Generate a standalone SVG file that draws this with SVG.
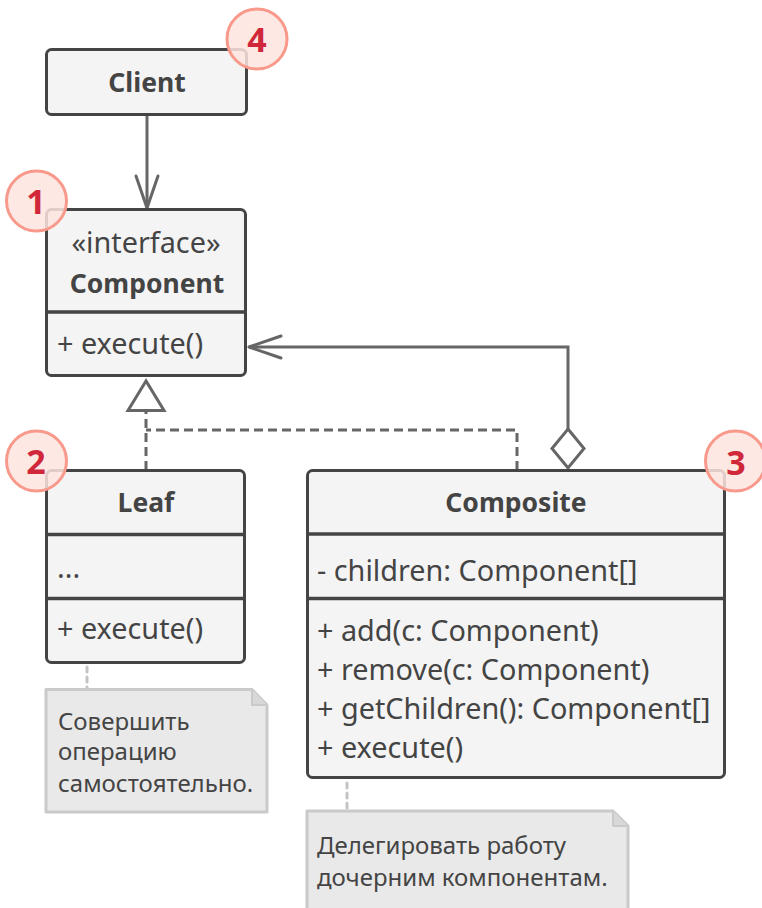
<svg xmlns="http://www.w3.org/2000/svg" width="762" height="908" viewBox="0 0 762 908">
<defs>
<style>
.box{fill:#f4f4f4;stroke:#444;stroke-width:3}
.div{stroke:#444;stroke-width:3.5}
.t{font-family:"Noto Sans","Open Sans",sans-serif;font-size:28.8px;fill:#444}
.b{font-family:"Noto Sans","Open Sans",sans-serif;font-size:26.5px;font-weight:700;fill:#444}
.n{font-family:"Noto Sans","Open Sans",sans-serif;font-size:24px;fill:#444}
.note{fill:#e9e9e9;stroke:#cacaca;stroke-width:3;stroke-linejoin:round}
.nl{stroke:#c4c4c4;stroke-width:3;stroke-dasharray:5 5;stroke-linecap:round;fill:none}
.ln{stroke:#666;stroke-width:3;fill:none}
.dash{stroke:#666;stroke-width:3;fill:none;stroke-dasharray:9 5}
.badge circle{fill:#fde4df;fill-opacity:0.85;stroke:#f8998b;stroke-width:3}
.badge text{font-family:"Noto Sans","Open Sans",sans-serif;font-size:34px;font-weight:700;fill:#d0283a;text-anchor:middle}
</style>
<marker id="open" viewBox="0 0 40 30" refX="36" refY="15" markerWidth="40" markerHeight="30" markerUnits="userSpaceOnUse" orient="auto">
<path d="M4,4 L36,15 L4,26" fill="none" stroke="#666" stroke-width="3" stroke-linecap="round" stroke-linejoin="round"/>
</marker>
</defs>

<g id="connectors">
<line class="ln" x1="147" y1="114" x2="147" y2="208" marker-end="url(#open)"/>
<path class="ln" d="M568,429 V347 H249" marker-end="url(#open)"/>
<polygon points="568,429 584,448.5 568,468 552,448.5" fill="#fff" stroke="#666" stroke-width="3" stroke-linejoin="miter"/>
<path class="dash" d="M146,470 V411"/>
<path class="dash" d="M517,470 V430 H146"/>
<polygon points="146,381 128,410.5 164,410.5" fill="#fff" stroke="#666" stroke-width="3" stroke-linejoin="miter"/>
<line class="nl" x1="87" y1="667" x2="87" y2="688"/>
<line class="nl" x1="347" y1="783" x2="347" y2="810"/>
</g>

<g id="client">
<rect class="box" x="46.5" y="49.5" width="200" height="65" rx="5"/>
<text class="b" x="147" y="92" text-anchor="middle">Client</text>
</g>

<g id="component">
<rect class="box" x="46.5" y="209.5" width="199" height="166" rx="5"/>
<line class="div" x1="46.5" y1="312" x2="245.5" y2="312"/>
<text class="t" x="146" y="253" text-anchor="middle">«interface»</text>
<text class="b" x="147" y="293" text-anchor="middle">Component</text>
<text class="t" x="57" y="354">+ execute()</text>
</g>

<g id="leaf">
<rect class="box" x="46.5" y="470.5" width="198" height="192" rx="5"/>
<line class="div" x1="46.5" y1="534.5" x2="244.5" y2="534.5"/>
<line class="div" x1="46.5" y1="598.5" x2="244.5" y2="598.5"/>
<text class="b" x="146" y="512" text-anchor="middle">Leaf</text>
<text class="t" x="57" y="578">...</text>
<text class="t" x="57" y="639">+ execute()</text>
</g>

<g id="composite">
<rect class="box" x="307.5" y="470.5" width="417" height="307" rx="5"/>
<line class="div" x1="307.5" y1="534" x2="724.5" y2="534"/>
<line class="div" x1="307.5" y1="598.5" x2="724.5" y2="598.5"/>
<text class="b" x="516" y="512" text-anchor="middle">Composite</text>
<text class="t" x="317" y="581">- children: Component[]</text>
<text class="t" x="317" y="641">+ add(c: Component)</text>
<text class="t" x="317" y="680">+ remove(c: Component)</text>
<text class="t" x="317" y="719">+ getChildren(): Component[]</text>
<text class="t" x="317" y="758">+ execute()</text>
</g>

<g id="note-leaf">
<path class="note" d="M46,689.5 H252 L267,705 V812 H46 Z"/>
<path d="M252,689.5 V705 H267" fill="#d8d8d8" stroke="#cacaca" stroke-width="2" stroke-linejoin="round"/>
<text class="n" x="58" y="729.5">Совершить</text>
<text class="n" x="58" y="760">операцию</text>
<text class="n" x="58" y="791.5">самостоятельно.</text>
</g>

<g id="note-composite">
<path class="note" d="M307,811 H613 L628,826 V912 H307 Z"/>
<path d="M613,811 V826 H628" fill="#d8d8d8" stroke="#cacaca" stroke-width="2" stroke-linejoin="round"/>
<text class="n" x="317" y="854">Делегировать работу</text>
<text class="n" x="317" y="886">дочерним компонентам.</text>
</g>

<g id="badge-1" class="badge">
<circle cx="36.5" cy="201" r="30"/>
<text x="36" y="214">1</text>
</g>
<g id="badge-2" class="badge">
<circle cx="36.5" cy="461" r="30"/>
<text x="36" y="474">2</text>
</g>
<g id="badge-3" class="badge">
<circle cx="735.5" cy="461" r="30"/>
<text x="736" y="474.5">3</text>
</g>
<g id="badge-4" class="badge">
<circle cx="257" cy="39" r="30"/>
<text x="257" y="52">4</text>
</g>
</svg>
